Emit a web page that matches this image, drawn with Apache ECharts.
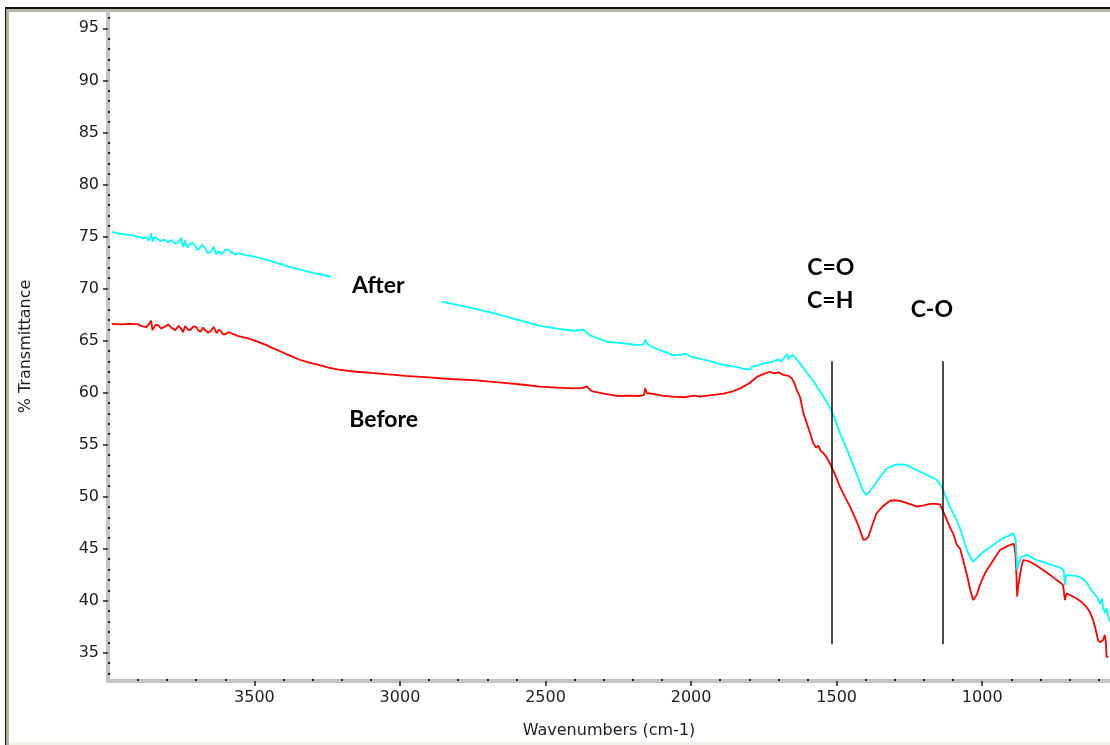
<!DOCTYPE html>
<html>
<head>
<meta charset="utf-8">
<script src="https://cdn.jsdelivr.net/npm/echarts@6/dist/echarts.min.js"></script>
<style>
  html, body { margin: 0; padding: 0; background: #ffffff; }
  #chart { width: 1110px; height: 745px; }
</style>
</head>
<body>
<div id="chart"></div>
<script>
// FTIR spectra: % transmittance against wavenumber (cm-1), before and after treatment.

const afterWavenumbers = [
  3990, 3970, 3944, 3920, 3898, 3885, 3870, 3862, 3855, 3850, 3842, 3835, 3822, 3810, 3796, 3784,
  3772, 3760, 3752, 3745, 3738, 3731, 3725, 3715, 3705, 3697, 3690, 3680, 3669, 3660, 3650, 3640,
  3632, 3624, 3610, 3600, 3590, 3575, 3565, 3555, 3530, 3498, 3470, 3440, 3410, 3383, 3355,
  3326, 3290, 3248, 2845, 2800, 2748, 2690, 2633, 2575, 2519, 2460, 2404, 2370, 2360, 2347, 2320,
  2289, 2240, 2186, 2165, 2158, 2150, 2141, 2100, 2061, 2040, 2020, 2000, 1946, 1915, 1889, 1850,
  1820, 1797, 1790, 1770, 1751, 1730, 1717, 1700, 1690, 1680, 1670, 1665, 1660, 1650, 1640, 1626, 1610, 1591,
  1575, 1557, 1540, 1523, 1505, 1489, 1470, 1454, 1437, 1420, 1408, 1399, 1390, 1374, 1350, 1328,
  1300, 1282, 1259, 1230, 1202, 1180, 1156, 1140, 1133, 1115, 1099, 1076, 1053, 1040, 1031, 1015,
  996, 980, 962, 945, 928, 905, 893, 885, 882, 880, 874, 865, 848, 830, 813, 790,
  768, 745, 727, 720, 716, 712, 705, 690, 676, 660, 642, 625, 607, 595, 588, 585,
  578, 572, 567, 562
];
const afterTransmittance = [
  75.45, 75.3, 75.2, 75.1, 74.97, 74.85, 74.9, 74.6, 75.3, 74.5, 74.95, 74.8, 74.55, 74.7, 74.45, 74.65,
  74.3, 74.5, 74.85, 74.0, 74.6, 73.95, 74.1, 74.4, 74.2, 73.7, 73.8, 74.2, 73.9, 73.4, 73.5, 74.0,
  73.3, 73.6, 73.3, 73.75, 73.7, 73.4, 73.25, 73.4, 73.2, 73.05, 72.85, 72.6, 72.35, 72.1, 71.9,
  71.7, 71.45, 71.2, 68.67, 68.4, 68.1, 67.7, 67.3, 66.85, 66.4, 66.15, 65.94, 66.05, 65.8, 65.5, 65.2,
  64.9, 64.75, 64.57, 64.6, 65.05, 64.7, 64.47, 64.0, 63.6, 63.6, 63.75, 63.45, 63.1, 62.85, 62.65, 62.5,
  62.3, 62.2, 62.5, 62.6, 62.8, 62.9, 63.0, 63.2, 62.95, 63.35, 63.7, 63.2, 63.45, 63.6, 63.3, 62.8, 62.2, 61.5,
  60.9, 60.1, 59.4, 58.6, 57.4, 56.1, 54.9, 53.8, 52.6, 51.3, 50.5, 50.15, 50.4, 50.95, 51.9, 52.7,
  53.05, 53.1, 53.04, 52.6, 52.24, 51.95, 51.6, 51.0, 50.5, 49.3, 48.4, 46.95, 44.87, 44.1, 43.74, 44.2,
  44.7, 45.0, 45.35, 45.7, 46.0, 46.3, 46.47, 45.8, 44.0, 42.95, 43.6, 44.2, 44.4, 44.15, 43.9, 43.7,
  43.5, 43.3, 43.1, 42.9, 41.5, 42.4, 42.47, 42.4, 42.37, 42.2, 41.8, 41.0, 40.4, 39.7, 40.2, 39.4,
  38.8, 39.3, 38.46, 38.0
];

const beforeWavenumbers = [
  3990, 3960, 3930, 3898, 3885, 3870, 3862, 3855, 3850, 3840, 3830, 3820, 3810, 3796, 3784, 3772,
  3760, 3752, 3745, 3738, 3728, 3720, 3710, 3700, 3692, 3685, 3676, 3669, 3660, 3650, 3640, 3630,
  3622, 3615, 3608, 3600, 3590, 3580, 3555, 3521, 3490, 3463, 3435, 3406, 3378, 3349, 3315,
  3280, 3245, 3211, 3150, 3097, 3040, 2982, 2900, 2828, 2748, 2690, 2633, 2575, 2519, 2460, 2404,
  2370, 2358, 2345, 2335, 2300, 2255, 2210, 2175, 2162, 2158, 2152, 2129, 2100, 2061, 2020, 1990,
  1969, 1930, 1889, 1860, 1831, 1800, 1774, 1750, 1729, 1715, 1700, 1683, 1665, 1654, 1645, 1637,
  1626, 1614, 1597, 1580, 1570, 1563, 1555, 1546, 1535, 1523, 1505, 1489, 1472, 1454, 1431, 1420, 1408, 1400,
  1391, 1377, 1363, 1340, 1317, 1300, 1282, 1250, 1225, 1200, 1179, 1160, 1145, 1128, 1110, 1099,
  1087, 1076, 1064, 1050, 1041, 1031, 1019, 1008, 996, 985, 973, 955, 939, 920, 905, 891,
  886, 883, 880, 876, 871, 865, 859, 848, 836, 815, 791, 768, 745, 730, 722, 716,
  710, 695, 676, 660, 642, 630, 619, 610, 602, 596, 590, 585, 579, 575, 573, 567
];
const beforeTransmittance = [
  66.6, 66.55, 66.6, 66.55, 66.35, 66.3, 66.6, 66.9, 66.0, 66.5, 66.45, 66.15, 66.3, 66.55, 66.2, 66.0,
  66.4, 66.15, 65.8, 66.4, 66.05, 66.0, 66.35, 66.3, 65.95, 65.85, 66.25, 66.0, 65.75, 65.9, 66.3, 65.7,
  66.05, 65.9, 65.6, 65.6, 65.8, 65.7, 65.43, 65.2, 64.9, 64.6, 64.25, 63.9, 63.55, 63.2, 62.9,
  62.65, 62.4, 62.2, 62.0, 61.9, 61.75, 61.6, 61.45, 61.3, 61.2, 61.05, 60.9, 60.75, 60.56, 60.48, 60.4,
  60.45, 60.6, 60.2, 60.08, 59.9, 59.67, 59.7, 59.67, 59.75, 60.4, 59.95, 59.86, 59.7, 59.6, 59.55, 59.7,
  59.6, 59.75, 59.9, 60.1, 60.4, 60.9, 61.5, 61.8, 62.0, 61.85, 61.95, 61.7, 61.6, 61.36, 60.9, 60.24,
  59.6, 58.0, 56.6, 55.1, 54.7, 54.9, 54.4, 54.2, 53.8, 53.2, 52.1, 50.95, 50.0, 49.03, 47.6, 46.8, 45.83, 45.9,
  46.15, 47.3, 48.4, 49.1, 49.6, 49.65, 49.58, 49.3, 49.03, 49.15, 49.3, 49.3, 49.26, 48.2, 47.0, 46.4,
  45.35, 45.0, 43.74, 42.2, 41.0, 40.06, 40.55, 41.5, 42.3, 42.9, 43.4, 44.2, 44.87, 45.15, 45.35, 45.45,
  44.5, 42.95, 40.4, 41.5, 42.3, 43.3, 43.9, 43.85, 43.74, 43.4, 42.95, 42.5, 42.0, 41.7, 41.5, 40.06,
  40.7, 40.5, 40.2, 39.9, 39.4, 38.9, 38.14, 37.2, 36.2, 36.0, 35.9, 36.2, 36.7, 36.0, 34.6, 34.6
];

// Tick labels
const xTickLabels = [1000, 1500, 2000, 2500, 3000, 3500];
const yTickLabels = [35, 40, 45, 50, 55, 60, 65, 70, 75, 80, 85, 90, 95];

// Band-assignment lines (wavenumber, from / to transmittance)
const bandLineWavenumbers = [1518, 1137];
const bandLineBottom = [35.8, 35.8];
const bandLineTop = [63.0, 63.0];

// Annotation texts and their anchor points (wavenumber, transmittance)
const annotationTexts = ['After', 'Before', 'C=O', 'C=H', 'C-O'];
const annotationWavenumbers = [3047, 3056, 1520, 1522, 1173];
const annotationValues = [70.28, 57.36, 71.97, 68.8, 67.93];

const X_MIN = 561, X_MAX = 4003;
const Y_MIN = 32.28, Y_MAX = 96.57;

const xMinorTicks = [];
for (let w = 600; w < X_MAX; w += 100) if (w % 500 !== 0) xMinorTicks.push(w);
const yMinorTicks = [];
for (let v = 33; v < Y_MAX; v += 1) if (v % 5 !== 0) yMinorTicks.push(v);

const pairs = (xs, ys) => xs.map((x, i) => [x, ys[i]]);
const plainNumber = v => String(v);

const axisFont = { fontFamily: 'DejaVu Sans', fontSize: 16, color: '#1e1e1e' };
const bandColor = '#c4c4c4';
const tickColor = '#1e1e1e';

const chart = echarts.init(document.getElementById('chart'), null, { renderer: 'canvas' });

const annotationData = annotationTexts.map((t, i) => {
  const item = { value: [annotationWavenumbers[i], annotationValues[i]], name: t };
  if (i === 0) {
    // white panel behind the "After" caption
    item.label = { backgroundColor: '#ffffff', padding: [0, 37, 12, 21] };
  }
  return item;
});

chart.setOption({
  animation: false,
  backgroundColor: '#ffffff',
  grid: { left: 108, right: 0, top: 12, bottom: 64, containLabel: false, outerBoundsMode: 'none' },
  xAxis: [
    {
      type: 'value', inverse: true, min: X_MIN, max: X_MAX, position: 'bottom',
      axisLine: { show: true, onZero: false, lineStyle: { color: bandColor, width: 4 } },
      axisTick: { show: true, customValues: xTickLabels, length: 5, lineStyle: { color: tickColor, width: 1.5 } },
      axisLabel: { show: true, customValues: xTickLabels, formatter: plainNumber, margin: 9, ...axisFont },
      splitLine: { show: false },
      name: 'Wavenumbers (cm-1)', nameLocation: 'middle', nameGap: 42,
      nameTextStyle: { ...axisFont }
    },
    {
      type: 'value', inverse: true, min: X_MIN, max: X_MAX, position: 'bottom',
      axisLine: { show: false, onZero: false },
      axisTick: { show: true, customValues: xMinorTicks, inside: true, length: 2, lineStyle: { color: tickColor, width: 2 } },
      axisLabel: { show: false },
      splitLine: { show: false }
    }
  ],
  yAxis: [
    {
      type: 'value', min: Y_MIN, max: Y_MAX, position: 'left',
      axisLine: { show: true, onZero: false, lineStyle: { color: bandColor, width: 4 } },
      axisTick: { show: true, customValues: yTickLabels, length: 5, lineStyle: { color: tickColor, width: 1.5 } },
      axisLabel: { show: true, customValues: yTickLabels, formatter: plainNumber, margin: 9, ...axisFont },
      splitLine: { show: false },
      name: '% Transmittance', nameLocation: 'middle', nameGap: 74, nameRotate: 90,
      nameTextStyle: { ...axisFont }
    },
    {
      type: 'value', min: Y_MIN, max: Y_MAX, position: 'left',
      axisLine: { show: false, onZero: false },
      axisTick: { show: true, customValues: yMinorTicks, inside: true, length: 2, lineStyle: { color: tickColor, width: 2 } },
      axisLabel: { show: false },
      splitLine: { show: false }
    }
  ],
  series: [
    {
      name: 'Before', type: 'line', xAxisIndex: 0, yAxisIndex: 0,
      data: pairs(beforeWavenumbers, beforeTransmittance),
      showSymbol: false, symbol: 'none', z: 2,
      lineStyle: { color: '#ff0000', width: 1.8 }
    },
    {
      name: 'After', type: 'line', xAxisIndex: 0, yAxisIndex: 0,
      data: pairs(afterWavenumbers, afterTransmittance),
      showSymbol: false, symbol: 'none', z: 3,
      lineStyle: { color: '#00ffff', width: 1.8 }
    },
    {
      name: 'Bands', type: 'line', xAxisIndex: 0, yAxisIndex: 0, data: [], z: 4,
      markLine: {
        silent: true, symbol: 'none', animation: false,
        label: { show: false },
        lineStyle: { color: '#111111', width: 1.5, type: 'solid', opacity: 1 },
        data: bandLineWavenumbers.map((w, i) => [
          { coord: [w, bandLineBottom[i]] },
          { coord: [w, bandLineTop[i]] }
        ])
      }
    },
    {
      name: 'Annotations', type: 'scatter', xAxisIndex: 0, yAxisIndex: 0, z: 10,
      symbolSize: 0, silent: true,
      itemStyle: { opacity: 1 },
      data: annotationData,
      label: {
        show: true, position: 'inside',
        formatter: p => p.name,
        fontFamily: 'Lato', fontWeight: 'bold', fontSize: 23, lineHeight: 28, color: '#000000'
      }
    }
  ],
  graphic: [
    // window frame
    { type: 'rect', shape: { x: 5, y: 7, width: 1105, height: 2 }, style: { fill: '#141414' }, silent: true },
    { type: 'rect', shape: { x: 7, y: 9, width: 1103, height: 3 }, style: { fill: '#b9b6a6' }, silent: true },
    { type: 'rect', shape: { x: 5, y: 7, width: 1.5, height: 738 }, style: { fill: '#141414' }, silent: true },
    { type: 'rect', shape: { x: 6.5, y: 9, width: 2.5, height: 736 }, style: { fill: '#b9b6a6' }, silent: true },
    { type: 'rect', shape: { x: 9, y: 742, width: 1101, height: 3 }, style: { fill: '#f3f2ea' }, silent: true }
  ]
});
</script>
</body>
</html>
